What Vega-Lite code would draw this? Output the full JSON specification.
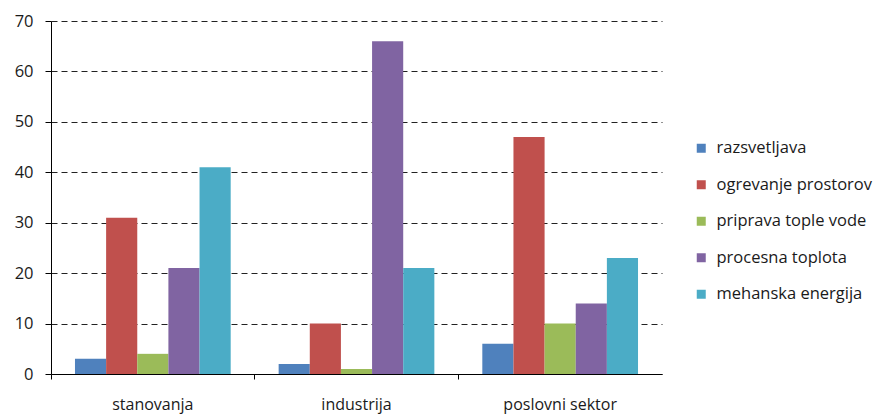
{
  "$schema": "https://vega.github.io/schema/vega-lite/v6.json",
  "width": 611,
  "height": 353,
  "autosize": "none",
  "padding": {"left": 51, "top": 21, "right": 214, "bottom": 40},
  "background": "white",
  "config": {
    "view": {"stroke": null},
    "font": "Open Sans"
  },
  "data": {
    "values": [
      {"sektor": "stanovanja", "raba": "razsvetljava", "vrednost": 3},
      {"sektor": "stanovanja", "raba": "ogrevanje prostorov", "vrednost": 31},
      {"sektor": "stanovanja", "raba": "priprava tople vode", "vrednost": 4},
      {"sektor": "stanovanja", "raba": "procesna toplota", "vrednost": 21},
      {"sektor": "stanovanja", "raba": "mehanska energija", "vrednost": 41},
      {"sektor": "industrija", "raba": "razsvetljava", "vrednost": 2},
      {"sektor": "industrija", "raba": "ogrevanje prostorov", "vrednost": 10},
      {"sektor": "industrija", "raba": "priprava tople vode", "vrednost": 1},
      {"sektor": "industrija", "raba": "procesna toplota", "vrednost": 66},
      {"sektor": "industrija", "raba": "mehanska energija", "vrednost": 21},
      {"sektor": "poslovni sektor", "raba": "razsvetljava", "vrednost": 6},
      {"sektor": "poslovni sektor", "raba": "ogrevanje prostorov", "vrednost": 47},
      {"sektor": "poslovni sektor", "raba": "priprava tople vode", "vrednost": 10},
      {"sektor": "poslovni sektor", "raba": "procesna toplota", "vrednost": 14},
      {"sektor": "poslovni sektor", "raba": "mehanska energija", "vrednost": 23}
    ]
  },
  "mark": {"type": "bar"},
  "encoding": {
    "x": {
      "field": "sektor",
      "type": "nominal",
      "sort": ["stanovanja", "industrija", "poslovni sektor"],
      "scale": {"paddingInner": 0, "paddingOuter": 0},
      "axis": {
        "title": null,
        "labelAngle": 0,
        "labelFont": "Open Sans",
        "labelFontSize": 16,
        "labelColor": "#1a1a1a",
        "labelPadding": 17,
        "domainColor": "#000",
        "domainWidth": 1,
        "tickColor": "#000",
        "tickSize": 5,
        "bandPosition": 0,
        "grid": false
      }
    },
    "xOffset": {
      "field": "raba",
      "sort": ["razsvetljava", "ogrevanje prostorov", "priprava tople vode", "procesna toplota", "mehanska energija"],
      "scale": {"paddingInner": 0, "paddingOuter": 0.77}
    },
    "y": {
      "field": "vrednost",
      "type": "quantitative",
      "scale": {"domain": [0, 70], "nice": false},
      "axis": {
        "title": null,
        "values": [0, 10, 20, 30, 40, 50, 60, 70],
        "labelFont": "Open Sans",
        "labelFontSize": 16.5,
        "labelColor": "#1a1a1a",
        "labelPadding": 12,
        "domainColor": "#000",
        "tickColor": "#000",
        "tickSize": 6,
        "grid": true,
        "gridColor": "#222",
        "gridDash": [6, 4],
        "gridWidth": 1
      }
    },
    "color": {
      "field": "raba",
      "type": "nominal",
      "sort": ["razsvetljava", "ogrevanje prostorov", "priprava tople vode", "procesna toplota", "mehanska energija"],
      "scale": {
        "domain": ["razsvetljava", "ogrevanje prostorov", "priprava tople vode", "procesna toplota", "mehanska energija"],
        "range": ["#4F81BD", "#C0504D", "#9BBB59", "#8064A2", "#4BACC6"]
      },
      "legend": {
        "title": null,
        "orient": "none",
        "legendX": 642,
        "legendY": 119,
        "symbolType": "square",
        "symbolSize": 81,
        "symbolStrokeWidth": 0,
        "labelFont": "Open Sans",
        "labelFontSize": 16.5,
        "labelColor": "#1a1a1a",
        "rowPadding": 19.5,
        "labelOffset": 7
      }
    }
  }
}
